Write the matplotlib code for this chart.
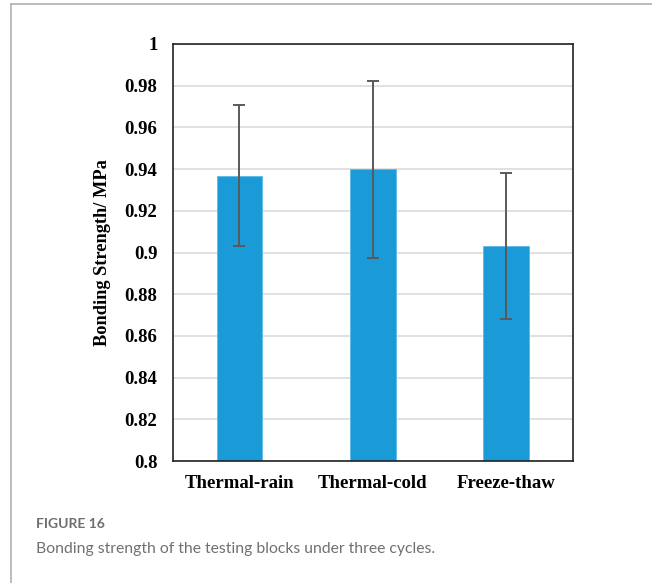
import matplotlib
matplotlib.use("Agg")
import matplotlib.pyplot as plt
from matplotlib.lines import Line2D

# bonding strength per cycle type (MPa) with error bars
cycles = ["Thermal-rain", "Thermal-cold", "Freeze-thaw"]
strength = [0.9368, 0.9399, 0.9031]
err = [0.0338, 0.0425, 0.0352]
yticks = [0.8, 0.82, 0.84, 0.86, 0.88, 0.9, 0.92, 0.94, 0.96, 0.98, 1.0]
ytick_labels = ["0.8", "0.82", "0.84", "0.86", "0.88", "0.9", "0.92", "0.94", "0.96", "0.98", "1"]

fig = plt.figure(figsize=(6.52, 5.83), dpi=100)
W, H = 652, 583
ax = fig.add_axes([172.7 / W, 1 - 461 / H, 400 / W, 417 / H])

x = range(len(cycles))
ax.bar(x, strength, width=0.342, color="#1a9ad6", edgecolor="#5bbbe8", linewidth=0.6,
       zorder=2)
ax.errorbar(x, strength, yerr=err, fmt="none", ecolor="#5a5a5a", elinewidth=1.4,
            capsize=4, capthick=1.4, zorder=3)

ax.set_xlim(-0.5, 2.5)
ax.set_ylim(0.8, 1.0)
ax.set_yticks(yticks)
ax.set_yticklabels(ytick_labels)
ax.set_xticks(list(x))
ax.set_xticklabels(cycles)
ax.yaxis.grid(True, color="#dcdcdc", linewidth=1.2, zorder=0)
ax.set_axisbelow(True)
ax.tick_params(axis="y", length=0, pad=11)
ax.tick_params(axis="x", length=0, pad=10)
for lab in ax.get_xticklabels() + ax.get_yticklabels():
    lab.set_fontfamily("Liberation Serif")
    lab.set_fontweight("bold")
    lab.set_fontsize(13.5)
for s in ax.spines.values():
    s.set_color("#222222")
    s.set_linewidth(1.2)

ax.set_ylabel("Bonding Strength/ MPa", fontfamily="Liberation Serif", fontweight="bold",
              fontsize=13.2, labelpad=10)

# page frame
fig.add_artist(Line2D([11 / W, 11 / W], [0, 1 - 4 / H], color="#b0b0b0", lw=1.2,
                      transform=fig.transFigure))
fig.add_artist(Line2D([11 / W, 1], [1 - 4 / H, 1 - 4 / H], color="#b0b0b0", lw=1.2,
                      transform=fig.transFigure))

fig.text(36 / W, 1 - 524 / H, "FIGURE 16", fontfamily="Lato", fontweight="bold",
         fontsize=10, color="#6e6e6e", va="center")
fig.text(36 / W, 1 - 549 / H, "Bonding strength of the testing blocks under three cycles.",
         fontfamily="Lato", fontsize=11.3, color="#707070", va="center")

fig.savefig("out.png", dpi=100)
